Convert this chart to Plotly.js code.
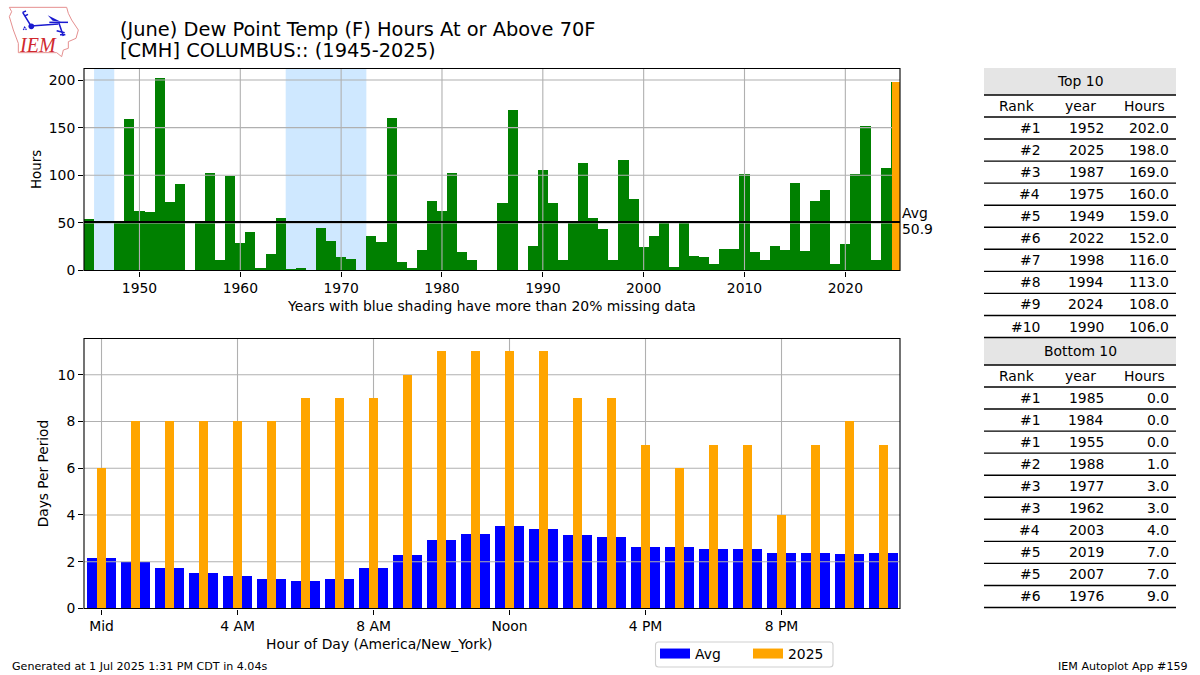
<!DOCTYPE html>
<html>
<head>
<meta charset="utf-8">
<script src="https://cdn.plot.ly/plotly-3.0.1.min.js"></script>
<style>html,body{margin:0;padding:0;background:#fff}#c{width:1200px;height:675px}</style>
</head>
<body>
<div id="c"></div>
<script>
var years = [1945,1946,1947,1948,1949,
 1950,1951,1952,1953,1954,1955,1956,1957,1958,1959,
 1960,1961,1962,1963,1964,1965,1966,1967,1968,1969,
 1970,1971,1972,1973,1974,1975,1976,1977,1978,1979,
 1980,1981,1982,1983,1984,1985,1986,1987,1988,1989,
 1990,1991,1992,1993,1994,1995,1996,1997,1998,1999,
 2000,2001,2002,2003,2004,2005,2006,2007,2008,2009,
 2010,2011,2012,2013,2014,2015,2016,2017,2018,2019,
 2020,2021,2022,2023,2024,2025];
var hoursByYear = [54,null,null,50,159,
 63,61,202,72,91,0,50,102,11,99,
 29,40,3,17,55,2,3,null,45,31,
 14,12,null,36,30,160,9,3,22,73,
 63,102,19,11,0,0,71,169,1,26,
 106,71,11,50,113,55,44,11,116,75,
 25,36,50,4,50,15,14,7,23,23,
 101,19,11,26,22,92,20,73,85,7,
 28,101,152,11,108,198];
var thisYear = [2025];
var thisYearHours = [198];
var averageHours = 50.9;
var missingSpans = [[1945.5,1947.5],[1964.5,1972.5]];
var yearTicks = [1950,1960,1970,1980,1990,2000,2010,2020];
var hourTicksTop = [0,50,100,150,200];

var hoursOfDay = [0,1,2,3,4,5,6,7,8,9,10,11,12,13,14,15,16,17,18,19,20,21,22,23];
var avgDays = [2.14,1.97,1.72,1.5,1.38,1.25,1.16,1.25,1.72,2.31,2.95,3.2,3.55,3.42,3.16,3.08,2.65,2.65,2.53,2.56,2.39,2.39,2.35,2.39];
var days2025 = [6,8,8,8,8,8,9,9,9,10,11,11,11,11,9,9,7,6,7,7,4,7,8,7];
var hourTickVals = [0,4,8,12,16,20];
var hourTickText = ['Mid','4 AM','8 AM','Noon','4 PM','8 PM'];
var dayTicks = [0,2,4,6,8,10];

var topRows = [['#1','1952','202.0'],['#2','2025','198.0'],['#3','1987','169.0'],['#4','1975','160.0'],['#5','1949','159.0'],['#6','2022','152.0'],['#7','1998','116.0'],['#8','1994','113.0'],['#9','2024','108.0'],['#10','1990','106.0']];
var bottomRows = [['#1','1985','0.0'],['#1','1984','0.0'],['#1','1955','0.0'],['#2','1988','1.0'],['#3','1977','3.0'],['#3','1962','3.0'],['#4','2003','4.0'],['#5','2019','7.0'],['#5','2007','7.0'],['#6','1976','9.0']];
var tableHead = ['Rank','year','Hours'];

var W = 1200, H = 675;
var FONT = '"DejaVu Sans", sans-serif';
var px = function (x) { return x / W; };
var py = function (y) { return 1 - y / H; };
var GRID = '#b0b0b0';

function vGrid(ticks, range) {
  var x = [], y = [];
  ticks.forEach(function (t) { x.push(t, t, null); y.push(range[0], range[1], null); });
  return {x: x, y: y};
}
function hGrid(ticks, range) {
  var x = [], y = [];
  ticks.forEach(function (t) { x.push(range[0], range[1], null); y.push(t, t, null); });
  return {x: x, y: y};
}
function gridTrace(g, xa, ya, z) {
  return {type: 'scatter', mode: 'lines', x: g.x, y: g.y, xaxis: xa, yaxis: ya, zorder: z,
    line: {color: GRID, width: 1.1}, showlegend: false, hoverinfo: 'skip', connectgaps: false};
}

var xr1 = [1944.5, 2025.42], yr1 = [0, 212.1];
var xr2 = [-0.515, 23.485], yr2 = [0, 11.55];

var data = [
  {type: 'bar', x: years, y: hoursByYear, width: 1, marker: {color: '#008000', line: {width: 0}}, xaxis: 'x', yaxis: 'y', zorder: 0, showlegend: false},
  gridTrace(vGrid(yearTicks, yr1), 'x', 'y', 1),
  gridTrace(hGrid(hourTicksTop, xr1), 'x', 'y', 1),
  {type: 'bar', x: thisYear, y: thisYearHours, width: 0.9, offset: -0.4, marker: {color: '#FFA500', line: {width: 0}}, xaxis: 'x', yaxis: 'y', zorder: 2, showlegend: false},
  {type: 'scatter', mode: 'lines', x: xr1, y: [averageHours, averageHours], line: {color: '#000', width: 2.2}, xaxis: 'x', yaxis: 'y', zorder: 3, showlegend: false},

  {type: 'bar', x: hoursOfDay, y: avgDays, width: 0.85, marker: {color: '#0000FF', line: {width: 0}}, xaxis: 'x2', yaxis: 'y2', zorder: 0, showlegend: false},
  gridTrace(vGrid(hourTickVals, yr2), 'x2', 'y2', 1),
  gridTrace(hGrid(dayTicks, xr2), 'x2', 'y2', 1),
  {type: 'bar', x: hoursOfDay, y: days2025, width: 0.27, marker: {color: '#FFA500', line: {width: 0}}, xaxis: 'x2', yaxis: 'y2', zorder: 2, showlegend: false},

  {type: 'scatter', mode: 'lines', name: 'Avg', x: [null], y: [null], line: {color: '#0000FF', width: 10}, xaxis: 'x2', yaxis: 'y2', showlegend: true},
  {type: 'scatter', mode: 'lines', name: '2025', x: [null], y: [null], line: {color: '#FFA500', width: 10}, xaxis: 'x2', yaxis: 'y2', showlegend: true}
];

var shapes = [];
missingSpans.forEach(function (s) {
  shapes.push({type: 'rect', xref: 'x', yref: 'paper', x0: s[0], x1: s[1], y0: py(270.5), y1: py(68.5),
    fillcolor: '#cfe8ff', line: {width: 0}, layer: 'below'});
});

// Axes frames
shapes.push({type: 'rect', xref: 'x domain', yref: 'y domain', x0: 0, x1: 1, y0: 0, y1: 1, line: {color: '#000', width: 1.1}, fillcolor: 'rgba(0,0,0,0)', layer: 'above'});
shapes.push({type: 'rect', xref: 'x2 domain', yref: 'y2 domain', x0: 0, x1: 1, y0: 0, y1: 1, line: {color: '#000', width: 1.1}, fillcolor: 'rgba(0,0,0,0)', layer: 'above'});

// Rounded legend frame
(function () {
  var l = 655.5, r = 833, t = 642, b = 667, c = 3;
  var X = function (v) { return px(v); }, Y = function (v) { return py(v); };
  shapes.push({type: 'path', xref: 'paper', yref: 'paper', layer: 'above', line: {color: '#d0d0d0', width: 1.1}, fillcolor: '#fff',
    path: 'M' + X(l + c) + ',' + Y(t) + ' L' + X(r - c) + ',' + Y(t) + ' Q' + X(r) + ',' + Y(t) + ' ' + X(r) + ',' + Y(t + c) +
      ' L' + X(r) + ',' + Y(b - c) + ' Q' + X(r) + ',' + Y(b) + ' ' + X(r - c) + ',' + Y(b) +
      ' L' + X(l + c) + ',' + Y(b) + ' Q' + X(l) + ',' + Y(b) + ' ' + X(l) + ',' + Y(b - c) +
      ' L' + X(l) + ',' + Y(t + c) + ' Q' + X(l) + ',' + Y(t) + ' ' + X(l + c) + ',' + Y(t) + ' Z'});
})();

var annotations = [];
function note(text, x, y, size, anchor) {
  annotations.push({text: text, xref: 'paper', yref: 'paper', x: px(x), y: py(y), showarrow: false,
    xanchor: anchor || 'center', yanchor: 'middle', font: {family: FONT, size: size, color: '#000'}, borderpad: 0});
}

// Heading, captions, footers
note('[CMH] COLUMBUS:: (1945-2025)', 119, 50, 19.4, 'left');
note('Years with blue shading have more than 20% missing data', 492, 306, 13.9, 'center');
note('Hour of Day (America/New_York)', 378.5, 643.5, 13.9, 'center');
note('Avg', 901, 213, 13.9, 'left');
note('50.9', 901, 229, 13.9, 'left');
note('Generated at 1 Jul 2025 1:31 PM CDT in 4.04s', 11, 666.5, 11.1, 'left');
note('IEM Autoplot App #159', 1189, 666.5, 11.1, 'right');

// Logo text
annotations.push({text: '<i>IEM</i>', xref: 'paper', yref: 'paper', x: px(37.5), y: py(45.5), showarrow: false,
  xanchor: 'center', yanchor: 'middle', font: {family: '"Liberation Serif", serif', size: 20, color: '#d0282e'}});

// Tables
var TL = 984, TR = 1176;
var centres = [1016, 1080, 1144], rights = [1041, 1105, 1170];
function rule(y) {
  shapes.push({type: 'line', xref: 'paper', yref: 'paper', x0: px(TL), x1: px(TR), y0: py(y), y1: py(y), line: {color: '#000', width: 1.4}});
}
function table(title, rows, top, bandBottom) {
  shapes.push({type: 'rect', xref: 'paper', yref: 'paper', x0: px(TL), x1: px(TR), y0: py(top), y1: py(bandBottom),
    fillcolor: '#e5e5e5', line: {width: 0}, layer: 'below'});
  note(title, 1080, (top + bandBottom) / 2 - 1, 13.9, 'center');
  rule(bandBottom);
  var y = bandBottom + 22;
  tableHead.forEach(function (h, i) { note(h, centres[i], y - 11, 13.9, 'center'); });
  rule(y);
  rows.forEach(function (r) {
    y += 22.05;
    r.forEach(function (c, i) { note(c, rights[i], y - 11, 13.9, 'right'); });
    rule(y);
  });
}
table('Top 10', topRows, 68, 95);
table('Bottom 10', bottomRows, 338, 365);

var logoSvg = '<svg xmlns="http://www.w3.org/2000/svg" width="270" height="186" viewBox="0 0 270 186">' +
  '<path d="M28 22H200L205 40 215 60 235 90 228 115 205 125 205 145 190 150 185 170 170 158 55 158 55 130 40 90 28 50 35 35Z" fill="none" stroke="#e59090" stroke-width="3"/>' +
  '<g stroke="#1a1ad0" fill="none" stroke-width="4.5">' +
  '<path d="M68 37L93 78 175 72"/><path d="M68 37L78 33M74 48L84 43"/>' +
  '<path d="M148 67H204"/><path d="M176 67L190 108"/><path d="M170 92L194 98M180 104H196"/></g>' +
  '<path d="M143 46L182 65 158 62Z" fill="#1a1ad0"/>' +
  '<circle cx="94" cy="79" r="8.5" fill="#1a1ad0"/>' +
  '<path d="M74 78L78 85H70Z" fill="#1a1ad0"/><circle cx="71" cy="88" r="2.5" fill="#1a1ad0"/><circle cx="78" cy="88" r="2.5" fill="#1a1ad0"/>' +
  '</svg>';

var axisBase = {
  showgrid: false, zeroline: false, showline: true, mirror: true, linecolor: '#000', linewidth: 1,
  ticks: 'outside', ticklen: 5, tickwidth: 1, tickcolor: '#000',
  tickfont: {family: FONT, size: 13.9, color: '#000'}, layer: 'above traces'
};
function ax(extra) { var o = {}; for (var k in axisBase) { o[k] = axisBase[k]; } for (var j in extra) { o[j] = extra[j]; } return o; }

var layout = {
  width: W, height: H,
  margin: {l: 0, r: 0, t: 0, b: 0},
  paper_bgcolor: '#fff', plot_bgcolor: 'rgba(0,0,0,0)',
  barmode: 'overlay', bargap: 0,
  font: {family: FONT, color: '#000'},
  title: {text: '(June) Dew Point Temp (F) Hours At or Above 70F', x: px(120), xanchor: 'left', xref: 'paper',
    y: py(29), yanchor: 'middle', yref: 'paper', font: {family: FONT, size: 19.4, color: '#000'}},
  xaxis: ax({domain: [px(84), px(900)], range: xr1, tickmode: 'array', tickvals: yearTicks, ticktext: yearTicks.map(String), anchor: 'y'}),
  yaxis: ax({domain: [py(270.5), py(68.5)], range: yr1, tickmode: 'array', tickvals: hourTicksTop, ticktext: hourTicksTop.map(String), anchor: 'x',
    title: {text: 'Hours', font: {family: FONT, size: 13.4, color: '#000'}, standoff: 4}}),
  xaxis2: ax({domain: [px(84), px(900)], range: xr2, tickmode: 'array', tickvals: hourTickVals, ticktext: hourTickText, anchor: 'y2'}),
  yaxis2: ax({domain: [py(608.5), py(338.5)], range: yr2, tickmode: 'array', tickvals: dayTicks, ticktext: dayTicks.map(String), anchor: 'x2',
    title: {text: 'Days Per Period', font: {family: FONT, size: 13.7, color: '#000'}, standoff: 5}}),
  legend: {orientation: 'h', x: px(655), y: py(638), xanchor: 'left', yanchor: 'top', bgcolor: 'rgba(0,0,0,0)', borderwidth: 0,
    font: {family: FONT, size: 13.9, color: '#000'}, itemwidth: 30, traceorder: 'normal', entrywidth: 48, entrywidthmode: 'pixels'},
  shapes: shapes,
  annotations: annotations,
  images: [{source: 'data:image/svg+xml;charset=utf-8,' + encodeURIComponent(logoSvg), xref: 'paper', yref: 'paper',
    x: 0, y: 1, sizex: 90 / W, sizey: 62 / H, xanchor: 'left', yanchor: 'top', sizing: 'stretch', layer: 'above'}]
};

Plotly.newPlot('c', data, layout, {displayModeBar: false, staticPlot: true});
</script>
</body>
</html>
